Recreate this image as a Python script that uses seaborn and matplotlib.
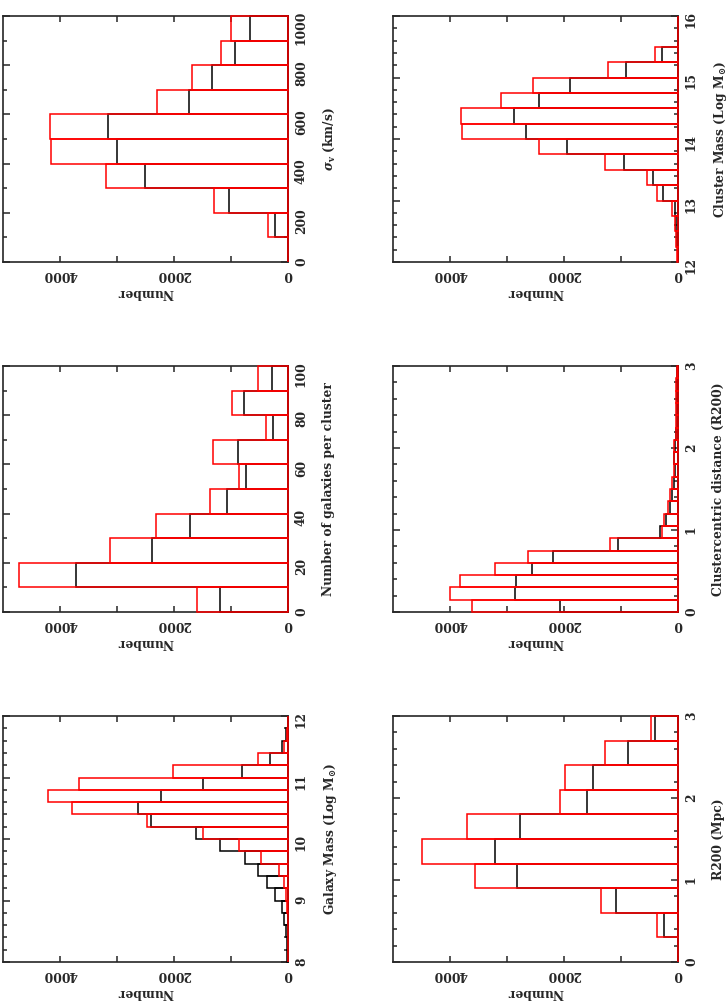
import numpy as np
import pandas as pd
import matplotlib
matplotlib.use("Agg")
import matplotlib.pyplot as plt
from matplotlib.ticker import MultipleLocator
import seaborn as sns

# bin edges of each histogram
sigma_edges = [0, 100, 200, 300, 400, 500, 600, 700, 800, 900, 1000]
ngal_edges = [0, 10, 20, 30, 40, 50, 60, 70, 80, 90, 100]
gmass_edges = np.round(np.arange(8.0, 12.01, 0.2), 2)
cmass_edges = np.arange(12.0, 16.01, 0.25)
dist_edges = np.round(np.arange(0.0, 3.01, 0.15), 2)
r200_edges = [0.0, 0.3, 0.6, 0.9, 1.2, 1.5, 1.8, 2.1, 2.4, 2.7, 3.0]

# counts per bin (red = full sample, black = sub-sample)
sigma_red = [0, 345, 1300, 3200, 4160, 4180, 2295, 1690, 1180, 995]
sigma_black = [0, 228, 1043, 2505, 3005, 3165, 1732, 1335, 924, 665]

ngal_red = [1594, 4716, 3124, 2311, 1376, 853, 1313, 392, 984, 518]
ngal_black = [1194, 3718, 2389, 1720, 1078, 735, 875, 255, 769, 287]

gmass_red = [0, 0, 0, 8, 18, 30, 70, 155, 476, 858, 1482, 2475, 3790, 4211,
             3665, 2012, 520, 65, 20, 0]
gmass_black = [12, 23, 35, 64, 110, 220, 372, 530, 761, 1190, 1605, 2406, 2637,
               2233, 1496, 813, 318, 108, 40, 0]

cmass_red = [10, 29, 59, 100, 375, 551, 1288, 2442, 3789, 3807, 3104, 2536,
             1236, 410, 0, 0]
cmass_black = [5, 18, 35, 59, 264, 433, 955, 1939, 2665, 2876, 2430, 1892,
               908, 275, 0, 0]

dist_red = [3608, 4006, 3824, 3209, 2624, 1189, 275, 252, 176, 135, 105, 64,
            76, 76, 35, 35, 29, 35, 29, 18]
dist_black = [2062, 2852, 2840, 2559, 2196, 1060, 322, 217, 146, 100, 76, 53,
              64, 53, 29, 25, 20, 25, 20, 12]

r200_red = [0, 369, 1353, 3567, 4486, 3695, 2067, 1985, 1277, 474]
r200_black = [0, 240, 1083, 2829, 3204, 2776, 1599, 1493, 884, 398]

sns.set_style("ticks")
plt.rcParams["font.family"] = ["DejaVu Serif"]
plt.rcParams["font.weight"] = "bold"
plt.rcParams["mathtext.fontset"] = "dejavuserif"
plt.rcParams["axes.linewidth"] = 1.2

fig = plt.figure(figsize=(7.27, 10.02), dpi=100)

panels = [
    # (left, bottom), edges, red, black, label, major, minor
    ((0.0041, 0.7385), sigma_edges, sigma_red, sigma_black,
     r"$\sigma_{\rm v}$ (km/s)", 200, 100),
    ((0.0041, 0.3892), ngal_edges, ngal_red, ngal_black,
     "Number of galaxies per cluster", 20, 10),
    ((0.0041, 0.0399), gmass_edges, gmass_red, gmass_black,
     r"Galaxy Mass (Log M$_{\odot}$)", 1, 0.2),
    ((0.5406, 0.7385), cmass_edges, cmass_red, cmass_black,
     r"Cluster Mass (Log M$_{\odot}$)", 1, 0.2),
    ((0.5406, 0.3892), dist_edges, dist_red, dist_black,
     "Clustercentric distance (R200)", 1, 0.2),
    ((0.5406, 0.0399), r200_edges, r200_red, r200_black,
     "R200 (Mpc)", 1, 0.2),
]

fs = 8.8

for (x0, y0), edges, red, black, label, major, minor in panels:
    ax = fig.add_axes([x0, y0, 0.392, 0.2455])
    edges = [float(e) for e in edges]
    centers = [(a + b) / 2 for a, b in zip(edges[:-1], edges[1:])]
    df = pd.DataFrame({"value": centers, "red": red, "black": black})

    # horizontal histograms, black first, red on top
    sns.histplot(data=df, y="value", weights="black", bins=edges,
                 element="bars", fill=False, color="black", linewidth=1.1,
                 zorder=3, clip_on=False, ax=ax)
    sns.histplot(data=df, y="value", weights="red", bins=edges,
                 element="bars", fill=False, color="red", linewidth=1.1,
                 zorder=4, clip_on=False, ax=ax)

    ax.set_xlim(5000, 0)
    ax.set_ylim(edges[0], edges[-1])

    ax.set_xticks([0, 1000, 2000, 3000, 4000])
    ax.set_xticklabels(["0", "", "2000", "", "4000"])
    ax.yaxis.set_major_locator(MultipleLocator(major))
    ax.yaxis.set_minor_locator(MultipleLocator(minor))

    ax.tick_params(which="both", direction="in", top=True, bottom=True,
                   left=True, right=True, labelleft=False, labelright=True,
                   width=1.1, labelsize=fs)
    ax.tick_params(axis="x", length=4, pad=4, labelrotation=180)
    ax.tick_params(axis="y", which="major", length=5, pad=5, labelrotation=90)
    ax.tick_params(axis="y", which="minor", length=3)
    for t in ax.get_xticklabels() + ax.get_yticklabels():
        t.set_fontweight("heavy")

    ax.set_xlabel("Number", rotation=180, fontsize=fs, fontweight="heavy",
                  labelpad=4)
    ax.yaxis.set_label_position("right")
    ax.set_ylabel(label, rotation=90, fontsize=fs, fontweight="heavy",
                  labelpad=10)

plt.savefig("out.png", dpi=100)
